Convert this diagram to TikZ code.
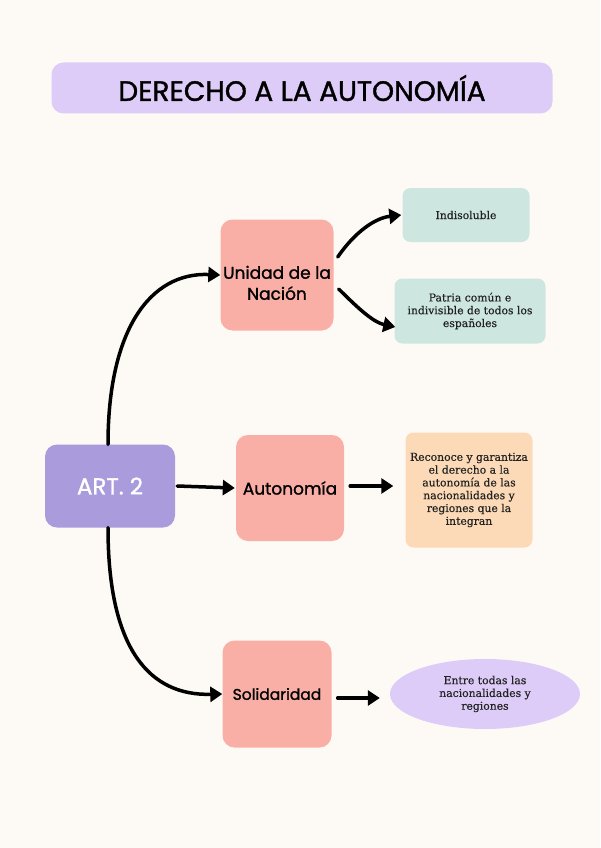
\documentclass[tikz,border=0pt]{standalone}
\usepackage{fontspec}
\setmainfont{DejaVu Serif}
\newfontfamily\handfont[FakeBold=1.3]{Poppins}
\newfontfamily\infofont[FakeBold=0.4]{DejaVu Serif}
\usetikzlibrary{arrows.meta,shapes.geometric}
\definecolor{bgc}{HTML}{FDFAF6}
\definecolor{lav}{HTML}{DDCCF8}
\definecolor{artc}{HTML}{A99BDC}
\definecolor{salm}{HTML}{F9AFA6}
\definecolor{mint}{HTML}{CDE7E0}
\definecolor{peach}{HTML}{FDDAB7}
\definecolor{ink}{HTML}{222222}
\tikzset{
  mainbox/.style={fill=salm, rounded corners=12pt, font=\handfont\fontsize{17}{21}\selectfont, align=center, inner sep=0pt},
  infobox/.style={rounded corners=8pt, font=\infofont\fontsize{10.8}{12.8}\selectfont, align=center, inner sep=0pt, text=ink},
  conn/.style={line width=3.5pt, -{Triangle[length=12pt,width=15pt]}, line cap=round}
}
\begin{document}
\begin{tikzpicture}[x=1pt,y=-1pt]
\path[fill=bgc] (0,0) rectangle (600,848);
% title
\node[fill=lav, rounded corners=12pt, minimum width=501pt, minimum height=51pt, inner sep=0pt,
      font=\handfont\fontsize{28}{30}\selectfont] (title) at (302,88) {DERECHO A LA AUTONOMÍA};
% ART 2
\node[fill=artc, rounded corners=12pt, minimum width=130pt, minimum height=83pt, inner sep=0pt,
      text=white, font=\handfont\fontsize{23}{26}\selectfont] (art) at (110,486) {ART. 2};
% main boxes
\node[mainbox, minimum width=113pt, minimum height=111pt, text depth=0pt] (unidad) at (277,275) {\raisebox{-3pt}{\parbox{113pt}{\centering Unidad de la\\Nación}}};
\node[mainbox, minimum width=108pt, minimum height=106pt] (auto) at (290,488) {Autonomía};
\node[mainbox, minimum width=109pt, minimum height=107pt, font=\handfont\fontsize{15.5}{20}\selectfont] (soli) at (277,694) {Solidaridad};
% info boxes
\node[infobox, fill=mint, minimum width=127pt, minimum height=54pt] (indi) at (466,215) {Indisoluble};
\node[infobox, fill=mint, minimum width=151pt, minimum height=65pt] (patria) at (470,311) {Patria común e\\indivisible de todos los\\españoles};
\node[infobox, fill=peach, minimum width=127pt, minimum height=115pt] (reco) at (469,490) {Reconoce y garantiza\\el derecho a la\\autonomía de las\\nacionalidades y\\regiones que la\\integran};
\node[ellipse, fill=lav, minimum width=190pt, minimum height=70pt, inner sep=0pt,
      font=\infofont\fontsize{10.8}{12.8}\selectfont, align=center, text=ink] (entre) at (485,694) {Entre todas las\\nacionalidades y\\regiones};
% connectors
\draw[conn] (art.north) ++(-2,0) coordinate (a1) (a1) .. controls (108,330) and (150,272) .. (unidad.west);
\draw[conn] (art.south) ++(-2,0) coordinate (a2) (a2) .. controls (108,650) and (150,696) .. (soli.west);
\draw[conn] (art.east) ++(2,0) -- ([xshift=-1pt]auto.west);
\draw[conn] ([xshift=4pt,yshift=18pt]unidad.east) .. controls (355,232) and (375,218) .. ([xshift=-1pt]indi.west);
\draw[conn] ([xshift=5pt,yshift=-14pt]unidad.east) .. controls (355,305) and (372,322) .. ([xshift=1pt,yshift=-16pt]patria.west);
\draw[conn] ([xshift=6pt,yshift=2pt]auto.east) -- ([xshift=-12pt,yshift=4pt]reco.west);
\draw[conn] ([xshift=6pt,yshift=-4pt]soli.east) -- ([xshift=-10pt,yshift=-4pt]entre.west);
\end{tikzpicture}
\end{document}
